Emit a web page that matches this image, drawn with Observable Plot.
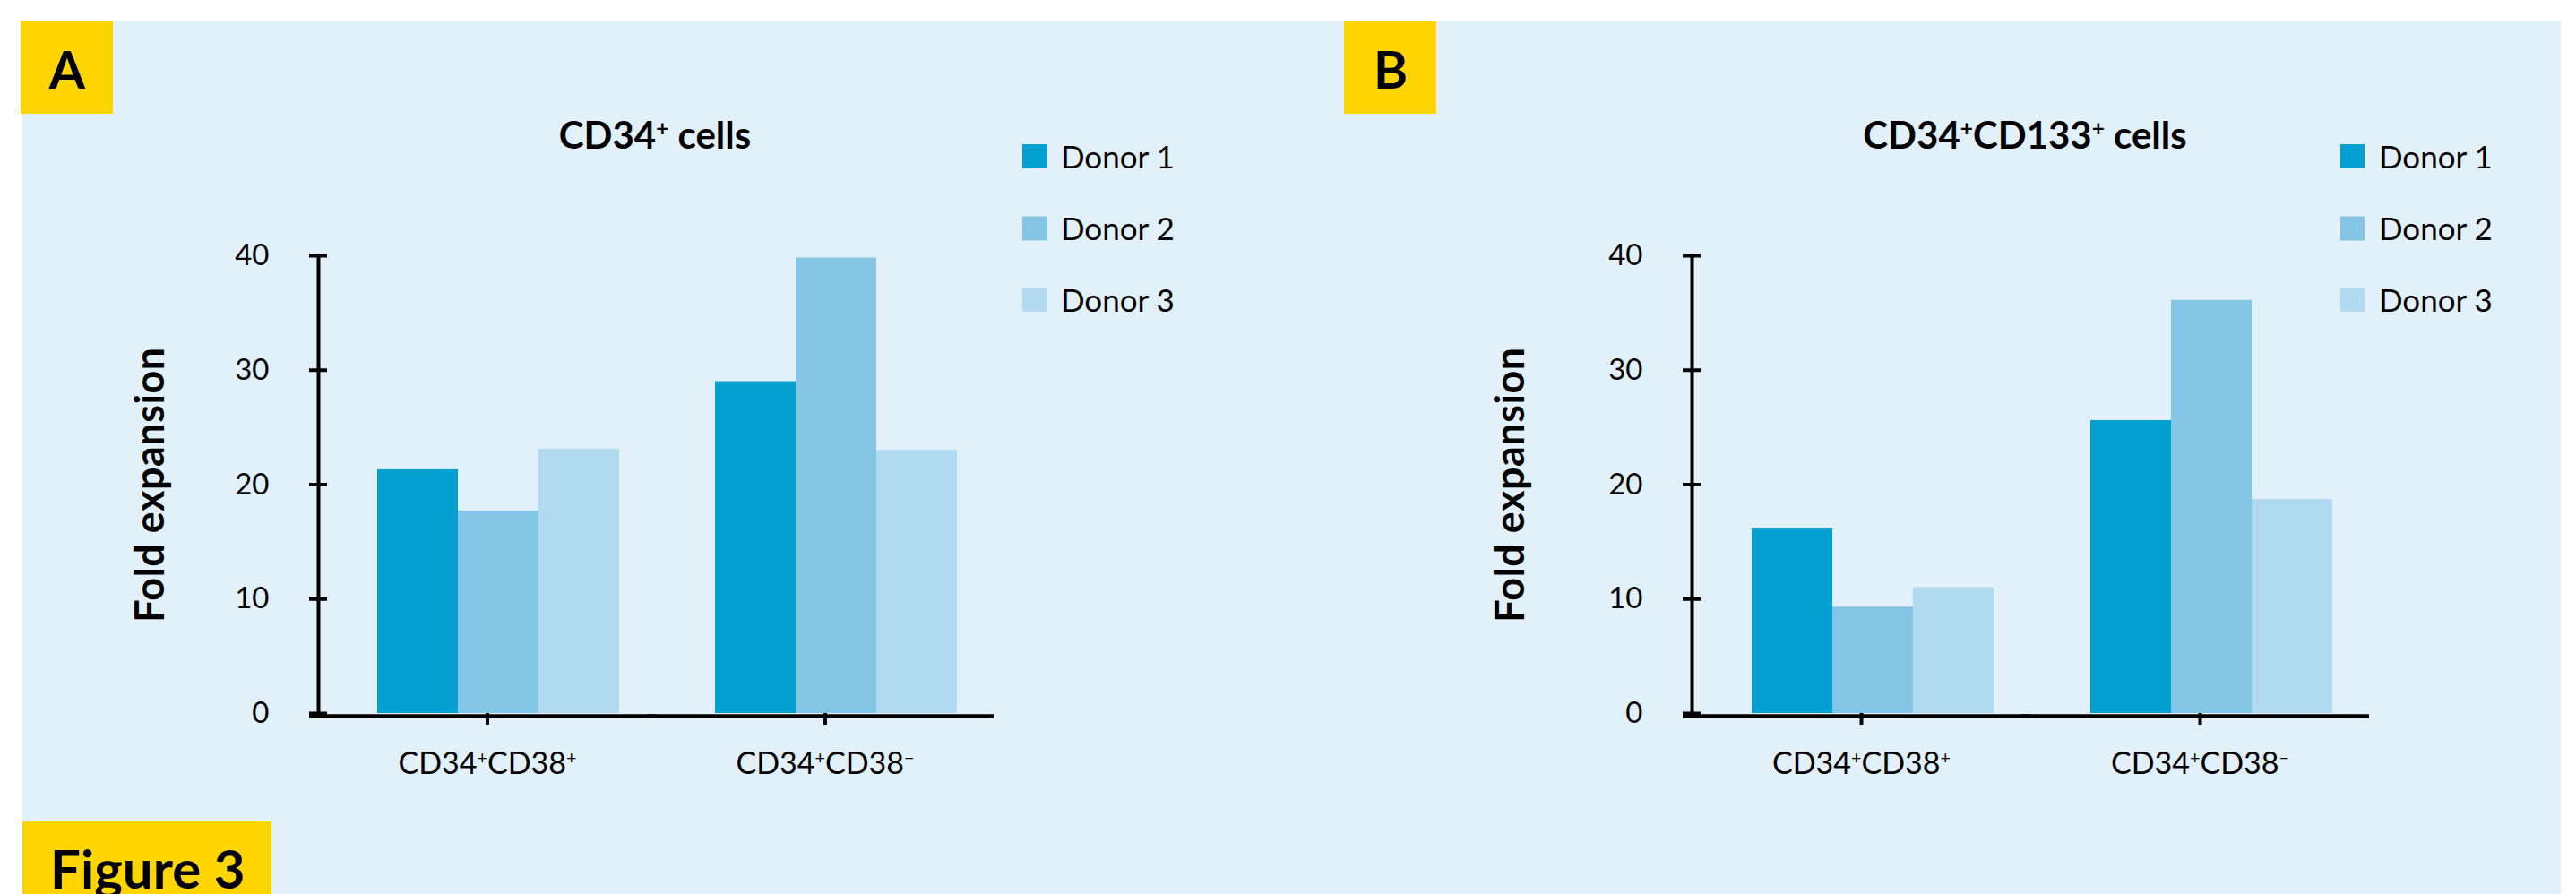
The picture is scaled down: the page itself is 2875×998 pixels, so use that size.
<!DOCTYPE html>
<html>
<head>
<meta charset="utf-8">
<script src="https://cdn.jsdelivr.net/npm/d3@7"></script>
<script src="https://cdn.jsdelivr.net/npm/@observablehq/plot@0.6"></script>
<style>
  html, body { margin: 0; padding: 0; background: #ffffff; }
  body { position: relative; width: 2875px; height: 998px; overflow: hidden; font-family: Lato, "Open Sans", sans-serif; }
  #deco { position: absolute; left: 0; top: 0; }
  .panel { position: absolute; top: 0; }
</style>
</head>
<body>
<svg id="deco" width="2875" height="998"></svg>
<div id="panelA" class="panel" style="left:0px"></div>
<div id="panelB" class="panel" style="left:1534px"></div>
<script>
// ---- data ----
const categories = ["CD34+CD38+", "CD34+CD38−"];
const donors = ["Donor 1", "Donor 2", "Donor 3"];
const donorColors = ["#03A0D2", "#84C4E5", "#B1D9EF"];
const yTicks = [0, 10, 20, 30, 40];

// Panel A: CD34+ cells
const cd34Donor1 = [21.3, 29.0];
const cd34Donor2 = [17.7, 39.8];
const cd34Donor3 = [23.1, 23.0];

// Panel B: CD34+CD133+ cells
const cd133Donor1 = [16.2, 25.6];
const cd133Donor2 = [9.3, 36.1];
const cd133Donor3 = [11.0, 18.7];

const panelLetters = ["A", "B"];
const panelTitles = ["CD34+ cells", "CD34+CD133+ cells"];
const yLabel = "Fold expansion";
const figureLabel = "Figure 3";

const FONT = "Lato, 'Open Sans', sans-serif";

// write text with superscripted + / − signs into a d3 text selection
function supText(sel, str) {
  const parts = str.split(/([+−])/);
  sel.text(null);
  for (const p of parts) {
    if (p === "") continue;
    if (p === "+" || p === "−") {
      sel.append("tspan").attr("baseline-shift", "super").attr("font-size", "58%").text(p);
    } else {
      sel.append("tspan").text(p);
    }
  }
}

function makePanel(v1, v2, v3, width, marginRight) {
  const table = [];
  categories.forEach((cat, i) => {
    [v1, v2, v3].forEach((arr, j) => table.push({cat, donor: donors[j], value: arr[i]}));
  });
  const svg = Plot.plot({
    width,
    height: 998,
    marginLeft: 354,
    marginRight,
    marginTop: 285,
    marginBottom: 202,
    style: {background: "transparent", color: "#000", fontFamily: FONT, overflow: "visible"},
    fx: {domain: categories, paddingInner: 0, paddingOuter: 0, label: null},
    x: {domain: donors, paddingInner: 0, paddingOuter: 0.582, align: 0.616, axis: null},
    y: {domain: [0, 40], label: null},
    color: {domain: donors, range: donorColors},
    marks: [
      Plot.barY(table, {fx: "cat", x: "donor", y: "value", fill: "donor"}),
      Plot.ruleY([0], {stroke: "#000", strokeWidth: 4.5, dy: 3, insetLeft: -10}),
      Plot.frame({anchor: "left", facetAnchor: "left", stroke: "#000", strokeWidth: 4}),
      Plot.axisY(yTicks, {anchor: "left", tickSize: 20, dx: 10, tickPadding: 45, strokeWidth: 4, fontSize: 33, label: null, tickFormat: d => String(d)}),
      Plot.axisFx({anchor: "bottom", tickSize: 13, tickPadding: 30, strokeWidth: 4, fontSize: 34, label: null})
    ]
  });
  // superscripts in category labels
  d3.select(svg).selectAll("text").each(function() {
    const t = this.textContent;
    if (categories.includes(t)) supText(d3.select(this), t);
  });
  return svg;
}

document.getElementById("panelA").append(makePanel(cd34Donor1, cd34Donor2, cd34Donor3, 1437, 1437 - 354 - 755));
document.getElementById("panelB").append(makePanel(cd133Donor1, cd133Donor2, cd133Donor3, 1341, 1341 - 354 - 756));

// ---- decoration (background, badges, titles, legends, axis titles) ----
const deco = d3.select("#deco").style("font-family", FONT);
deco.append("rect").attr("x", 24).attr("y", 24).attr("width", 2834).attr("height", 974).attr("fill", "#E2F0F9");

const badgeX = [23, 1500];
panelLetters.forEach((L, i) => {
  deco.append("rect").attr("x", badgeX[i]).attr("y", 24).attr("width", 103).attr("height", 103).attr("fill", "#FFD500");
  deco.append("text").attr("x", badgeX[i] + 52).attr("y", 99).attr("text-anchor", "middle")
    .attr("font-size", 58).attr("font-weight", 700).attr("fill", "#000").text(L);
});
deco.append("rect").attr("x", 25).attr("y", 917).attr("width", 278).attr("height", 81).attr("fill", "#FFD500");
deco.append("text").attr("x", 56).attr("y", 992).attr("font-size", 60).attr("font-weight", 700).attr("fill", "#000").text(figureLabel);

const titleCx = [731, 2260];
panelTitles.forEach((T, i) => {
  const t = deco.append("text").attr("x", titleCx[i]).attr("y", 166).attr("text-anchor", "middle")
    .attr("font-size", 42).attr("font-weight", 700).attr("fill", "#000");
  supText(t, T);
});

const yLabelX = [183, 1701];
yLabelX.forEach(x => {
  deco.append("text").attr("transform", `translate(${x},541) rotate(-90)`).attr("text-anchor", "middle")
    .attr("font-size", 45).attr("font-weight", 700).attr("letter-spacing", 0.5).attr("fill", "#000").text(yLabel);
});

const legendX = [1141, 2612];
const legendCy = [174.5, 255, 334.5];
legendX.forEach(lx => {
  donors.forEach((d, j) => {
    deco.append("rect").attr("x", lx).attr("y", legendCy[j] - 13.5).attr("width", 27).attr("height", 27).attr("fill", donorColors[j]);
    deco.append("text").attr("x", lx + 43).attr("y", legendCy[j] + 13).attr("font-size", 35).attr("fill", "#000").text(d);
  });
});
</script>
</body>
</html>
